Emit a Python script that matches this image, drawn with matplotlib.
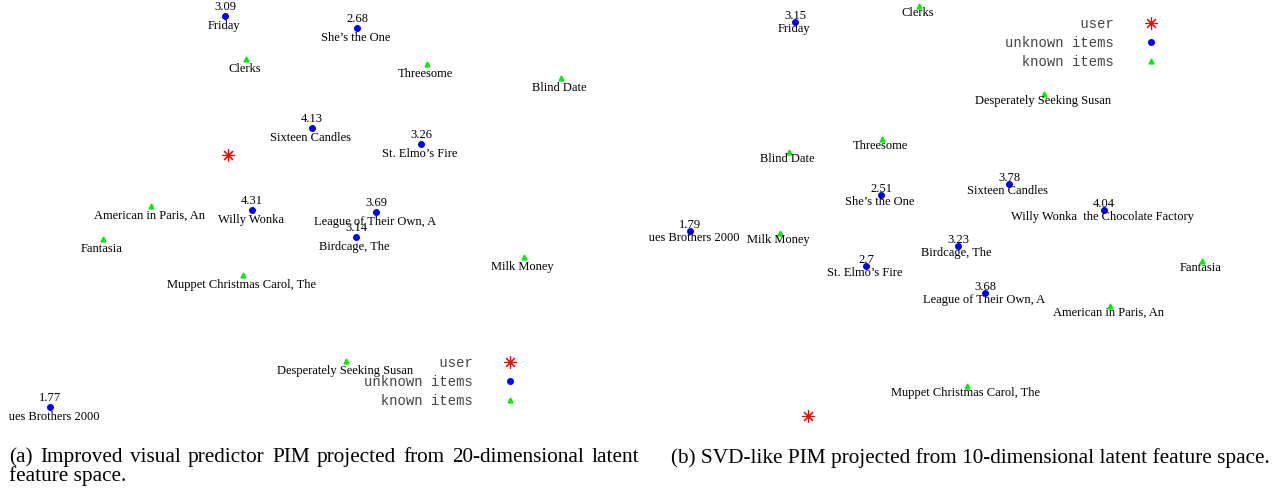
"""Two PIM projections of movies: improved visual predictor vs SVD-like"""

import matplotlib
matplotlib.use('Agg')
import matplotlib.pyplot as plt
from matplotlib.lines import Line2D

SERIF = 'Liberation Serif'
MONO = 'Liberation Mono'

# ---- panel (a): improved visual predictor, 20-dim latent space ----
a_unknown_names = ['Friday', "She’s the One", 'Sixteen Candles', "St. Elmo’s Fire",
                   'Willy Wonka', 'League of Their Own, A', 'Birdcage, The',
                   'Blues Brothers 2000']
a_unknown_rating = ['3.09', '2.68', '4.13', '3.26', '4.31', '3.69', '3.14', '1.77']
a_unknown_x = [2.25, 3.57, 3.12, 4.21, 2.52, 3.76, 3.56, 0.50]
a_unknown_y = [4.24, 4.12, 3.12, 2.96, 2.30, 2.28, 2.03, 0.33]

a_known_names = ['Clerks', 'Threesome', 'Blind Date', 'American in Paris, An', 'Fantasia',
                 'Milk Money', 'Muppet Christmas Carol, The', 'Desperately Seeking Susan']
a_known_x = [2.46, 4.27, 5.61, 1.51, 1.03, 5.24, 2.43, 3.46]
a_known_y = [3.81, 3.76, 3.62, 2.34, 2.01, 1.83, 1.65, 0.79]

a_user = (2.28, 2.85)

# ---- panel (b): SVD-like, 10-dim latent space ----
b_unknown_names = ['Friday', 'Sixteen Candles', "She’s the One",
                   'Willy Wonka  the Chocolate Factory', 'Blues Brothers 2000',
                   'Birdcage, The', "St. Elmo’s Fire", 'League of Their Own, A']
b_unknown_rating = ['3.15', '3.78', '2.51', '4.04', '1.79', '3.23', '2.7', '3.68']
b_unknown_x = [1.55, 3.69, 2.41, 4.64, 0.50, 3.18, 2.26, 3.45]
b_unknown_y = [4.18, 2.56, 2.45, 2.30, 2.09, 1.94, 1.74, 1.47]

b_known_names = ['Clerks', 'Desperately Seeking Susan', 'Threesome', 'Blind Date',
                 'Milk Money', 'Fantasia', 'American in Paris, An',
                 'Muppet Christmas Carol, The']
b_known_x = [2.79, 4.04, 2.42, 1.49, 1.40, 5.62, 4.70, 3.27]
b_known_y = [4.34, 3.46, 3.01, 2.88, 2.07, 1.79, 1.34, 0.54]

b_user = (1.68, 0.24)

legend_labels = ['user', 'unknown items', 'known items']

captions_a = ['(a) Improved visual predictor PIM projected from 20-dimensional latent',
              'feature space.']
caption_b = '(b) SVD-like PIM projected from 10-dimensional latent feature space.'

W, H = 1279, 497
fig = plt.figure(figsize=(W / 100, H / 100), dpi=100)


def px_axes(x0, x1, y0, y1):
    # axes from pixel box (top-down y)
    return fig.add_axes([x0 / W, 1 - y1 / H, (x1 - x0) / W, (y1 - y0) / H])


ax_a = px_axes(9, 640, 0, 440)
ax_a.set_xlim(0.09, 6.40)
ax_b = px_axes(649, 1279, 0, 440)
ax_b.set_xlim(0.09, 6.39)
for ax in (ax_a, ax_b):
    ax.set_ylim(0, 4.40)
    ax.axis('off')

LBL = 9


def draw_panel(ax, un_names, un_rating, un_x, un_y, kn_names, kn_x, kn_y, user,
               below, above):
    ax.plot([user[0]], [user[1]], linestyle='none', marker=(8, 2, 0), color='#ff0000',
            markersize=9, mew=0.8)
    ax.plot(un_x, un_y, linestyle='none', marker='o', color='#0000ff', markersize=4)
    ax.plot(kn_x, kn_y, linestyle='none', marker='^', color='#00ee00', markersize=3.5)
    for name, r, x, y in zip(un_names, un_rating, un_x, un_y):
        ax.annotate(r, (x, y), xytext=(0, above), textcoords='offset points',
                    ha='center', va='center', fontsize=LBL, family=SERIF, clip_on=True)
        ax.annotate(name, (x, y), xytext=(-1, -below), textcoords='offset points',
                    ha='center', va='center', fontsize=LBL, family=SERIF, clip_on=True)
    for name, x, y in zip(kn_names, kn_x, kn_y):
        ax.annotate(name, (x, y), xytext=(-1, -below), textcoords='offset points',
                    ha='center', va='center', fontsize=LBL, family=SERIF, clip_on=True)


draw_panel(ax_a, a_unknown_names, a_unknown_rating, a_unknown_x, a_unknown_y,
           a_known_names, a_known_x, a_known_y, a_user, 7.0, 6.2)
draw_panel(ax_b, b_unknown_names, b_unknown_rating, b_unknown_x, b_unknown_y,
           b_known_names, b_known_x, b_known_y, b_user, 5.0, 4.5)

handles = [Line2D([], [], linestyle='none', marker=(8, 2, 0), color='#ff0000',
                  markersize=9, mew=0.8),
           Line2D([], [], linestyle='none', marker='o', color='#0000ff', markersize=4),
           Line2D([], [], linestyle='none', marker='^', color='#00ee00', markersize=3.5)]
width = max(len(s) for s in legend_labels)
padded = [s.rjust(width) for s in legend_labels]


def add_legend(ax, cx, cy):
    leg = ax.legend(handles, padded, loc='center', bbox_to_anchor=(cx / W, 1 - cy / H),
                    bbox_transform=fig.transFigure, frameon=False, markerfirst=False,
                    handlelength=0.8, handletextpad=2.3, labelspacing=0.38,
                    borderpad=0, prop={'family': MONO, 'size': 10})
    for t in leg.get_texts():
        t.set_color('#444444')


add_legend(ax_a, 440, 382)
add_legend(ax_b, 1081, 43)

CAP = 15.3


def justified(line, x0, x1, y):
    # place words on a common baseline so the line fills x0..x1 (pixels)
    words = line.split(' ')
    texts = [fig.text(0, 1 - y / H, w, family=SERIF, fontsize=CAP, va='baseline')
             for w in words]
    r = fig.canvas.get_renderer()
    widths = [t.get_window_extent(r).width for t in texts]
    gap = (x1 - x0 - sum(widths)) / (len(words) - 1)
    x = x0
    for t, w in zip(texts, widths):
        t.set_x(x / W)
        x += w + gap


justified(captions_a[0], 9, 639, 462)
fig.text(9 / W, 1 - 481 / H, captions_a[1], family=SERIF, fontsize=CAP, va='baseline')
fig.text(671 / W, 1 - 463 / H, caption_b, family=SERIF, fontsize=CAP, va='baseline')

fig.savefig('out.png', dpi=100)
